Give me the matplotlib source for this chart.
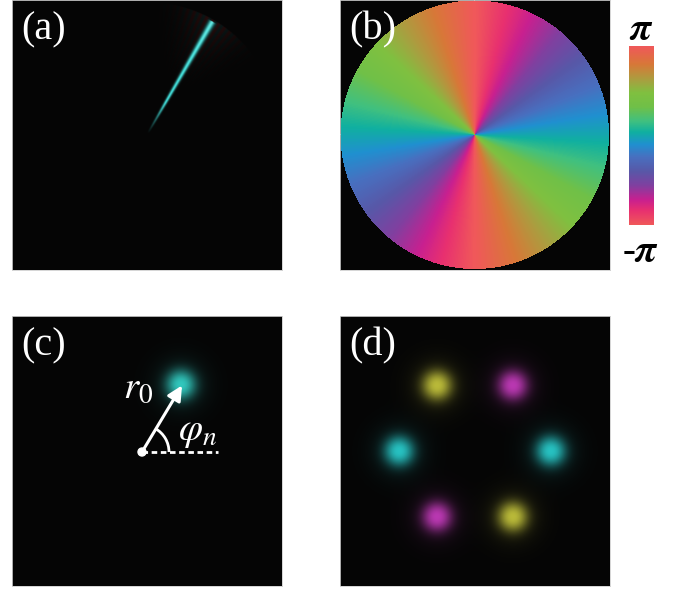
import numpy as np
import matplotlib.pyplot as plt
from matplotlib.colors import LinearSegmentedColormap, to_rgb
from matplotlib.patches import Arc, Circle

plt.rcParams['mathtext.fontset'] = 'stix'
plt.rcParams['font.family'] = ['Liberation Serif', 'DejaVu Serif']

# physical parameters (pixel units inside a 270 px panel)
charge = 2                      # topological charge of the phase plate
wedge_angle = 60.0              # deg, direction of the diffracted streak
wedge_len = 129.0
r0_single = 78.0                # radius of the single spot in (c)
r0_ring = 76.0                  # radius of the spot ring in (d)
phi_n = 60.0                    # deg
ring_angles = [0, 60, 120, 180, 240, 300]
ring_colors = ['#22bcbc', '#b433ac', '#b4b434', '#22bcbc', '#b433ac', '#b4b434']
single_color = '#2cc2b8'
spot_size = 14.5

# phase colormap from -pi (bottom) to pi (top)
phase_pos = [0.00, 0.08, 0.14, 0.22, 0.30, 0.38, 0.45, 0.52, 0.58, 0.66, 0.74, 0.81, 0.90, 1.00]
phase_cols = ['#f0585a', '#e83070', '#c82090', '#8040a0', '#5858a8', '#4870c0', '#2090d0',
              '#10b0a0', '#40c080', '#70c048', '#80c040', '#a8a040', '#d87838', '#f0585a']
phase_cmap = LinearSegmentedColormap.from_list('phase', list(zip(phase_pos, phase_cols)))

bg = np.array([0.02, 0.02, 0.02])
half = 135.0
n = 540
xs = np.linspace(-half, half, n)
X, Y = np.meshgrid(xs, xs[::-1])
ext = [-half, half, -half, half]


def spot_image(centers, colors, size):
    img = np.zeros((n, n, 3)) + bg
    for (cx, cy), c in zip(centers, colors):
        r = np.hypot(X - cx, Y - cy)
        g = 0.82 * np.exp(-(r / size) ** 2.4) + 0.18 * np.exp(-(r / (1.7 * size)) ** 2)
        img += g[..., None] * np.array(to_rgb(c))
    return np.clip(img, 0, 1)


fig = plt.figure(figsize=(6.82, 5.89), dpi=100)
W, H = 682.0, 589.0


def panel(x0, ytop):
    ax = fig.add_axes([x0 / W, (H - ytop - 270) / H, 270 / W, 270 / H])
    ax.set_xlim(-half, half)
    ax.set_ylim(-half, half)
    ax.set_xticks([])
    ax.set_yticks([])
    for s in ax.spines.values():
        s.set_color('#cfcfcf')
        s.set_linewidth(0.6)
    return ax


def tag(ax, s):
    ax.text(0.035, 0.958, s, transform=ax.transAxes, color='white',
            fontsize=29, ha='left', va='top')


# (a) diffracted streak
ax_a = panel(12, 0)
ox, oy = 1.0, 2.0
R = np.hypot(X - ox, Y - oy)
T = np.arctan2(Y - oy, X - ox)
th0 = np.deg2rad(wedge_angle)
along = R * np.cos(T - th0)
perp = R * np.sin(T - th0)
sig = 0.6 + 0.011 * along
core = np.exp(-0.5 * (perp / sig) ** 2) * (along > 0) * (along < wedge_len)
core *= np.clip(along / 35, 0, 1)
dlt = np.rad2deg(np.angle(np.exp(1j * (T - th0))))
env = np.exp(-(dlt / 14) ** 2) * np.clip((R - 40) / 89, 0, 1) ** 2 * (R < wedge_len + 2)
stripe = 0.5 + 0.5 * np.cos(2 * np.pi * dlt / 3.0)
img_a = np.zeros((n, n, 3)) + bg
img_a += core[..., None] * np.array([0.25, 0.88, 0.86])
img_a += (0.16 * env * stripe)[..., None] * np.array([0.8, 0.12, 0.12])
img_a += (0.12 * env * (1 - stripe))[..., None] * np.array([0.08, 0.6, 0.6])
ax_a.imshow(np.clip(img_a, 0, 1), extent=ext, interpolation='bilinear')
tag(ax_a, '(a)')

# (b) spiral phase plate
ax_b = panel(340, 0)
theta = np.arctan2(Y, X)
phase = np.angle(np.exp(-1j * charge * theta))
phase = np.ma.masked_where(np.hypot(X, Y) > 134.5, phase)
ax_b.set_facecolor('#050505')
ax_b.imshow(phase, extent=ext, cmap=phase_cmap, vmin=-np.pi, vmax=np.pi,
            interpolation='nearest')
tag(ax_b, '(b)')

cax = fig.add_axes([629 / W, (H - 225) / H, 25 / W, 179 / H])
cax.imshow(np.linspace(np.pi, -np.pi, 256)[:, None], aspect='auto', cmap=phase_cmap,
           vmin=-np.pi, vmax=np.pi, extent=[0, 1, -np.pi, np.pi])
cax.axis('off')
fig.text(641 / W, 1 - 30 / H, r'$\boldsymbol{\pi}$', fontsize=28, ha='center', va='center')
fig.text(641 / W, 1 - 253 / H, r'-$\boldsymbol{\pi}$', fontsize=28, ha='center',
         va='center', fontweight='bold')

# (c) single shifted spot
ax_c = panel(12, 316)
dx, dy = -5.0, -1.0
sx = dx + r0_single * np.cos(np.deg2rad(phi_n))
sy = dy + r0_single * np.sin(np.deg2rad(phi_n))
ax_c.imshow(spot_image([(sx, sy)], [single_color], spot_size), extent=ext,
            interpolation='bilinear')
ax_c.annotate('', xy=(sx + 1, sy - 1), xytext=(dx, dy),
              arrowprops=dict(arrowstyle='-|>', color='white', lw=2.2,
                              mutation_scale=22, shrinkA=0, shrinkB=0))
ax_c.add_patch(Circle((dx, dy), 4, color='white', zorder=5))
ax_c.plot([dx, dx + 76], [dy, dy], color='white', lw=2, ls=(0, (2, 1.3)))
ax_c.add_patch(Arc((dx, dy), 54, 54, theta1=0, theta2=phi_n, color='white', lw=2))
ax_c.text(-9, 63, r'$r_0$', color='white', fontsize=28, ha='center', va='center')
ax_c.text(51, 19, r'$\varphi_n$', color='white', fontsize=28, ha='center', va='center')
ax_c.set_xlim(-half, half)
ax_c.set_ylim(-half, half)
tag(ax_c, '(c)')

# (d) ring of spots
ax_d = panel(340, 316)
centers = [(r0_ring * np.cos(np.deg2rad(a)), r0_ring * np.sin(np.deg2rad(a))) for a in ring_angles]
ax_d.imshow(spot_image(centers, ring_colors, spot_size), extent=ext, interpolation='bilinear')
tag(ax_d, '(d)')

fig.savefig('out.png', dpi=100)
